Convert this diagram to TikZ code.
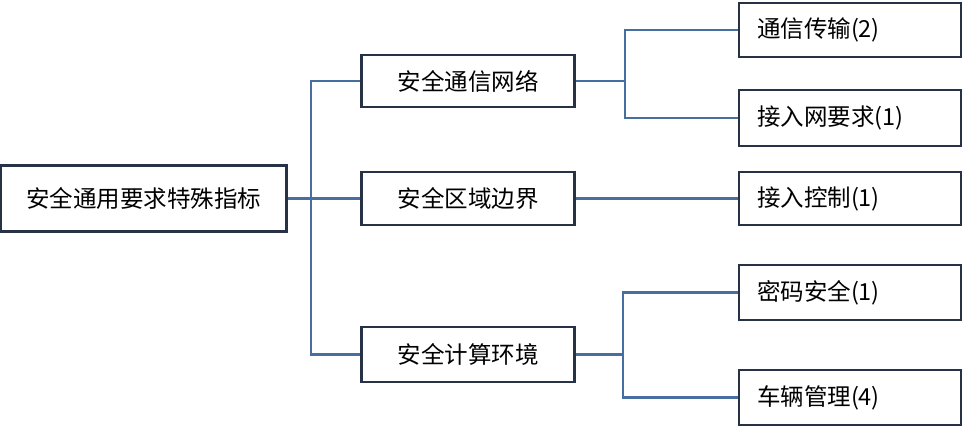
\documentclass[tikz,border=0pt]{standalone}
\usepackage{fontspec}
\setmainfont{Noto Sans CJK SC}
\begin{document}
\begin{tikzpicture}[x=1pt,y=-1pt]
\definecolor{ln}{RGB}{70,110,160}
\fill[white] (0,0) rectangle (963,430);
\useasboundingbox (0,0) rectangle (963,430);
\tikzset{bx/.style={draw={rgb,255:red,40;green,50;blue,70}, line width=2.4pt, inner sep=0pt, font=\fontsize{23.5}{26}\selectfont}}
\node[bx, minimum width=286pt, minimum height=66pt] (r) at (143.5,198.5) {安全通用要求特殊指标};
\node[bx, minimum width=213pt, minimum height=52pt] (m1) at (468,81) {安全通信网络};
\node[bx, minimum width=213pt, minimum height=53pt] (m2) at (468,198.5) {安全区域边界};
\node[bx, minimum width=213pt, minimum height=55pt] (m3) at (468,354.5) {安全计算环境};
\tikzset{rb/.style={bx, minimum width=222pt, minimum height=#1, text width=186pt, align=left}}
\node[rb=54pt] (a1) at (850,30) {通信传输(2)};
\node[rb=56pt] (a2) at (850,118) {接入网要求(1)};
\node[rb=53pt] (a3) at (850,198.5) {接入控制(1)};
\node[rb=55pt] (a4) at (850,292.5) {密码安全(1)};
\node[rb=55pt] (a5) at (850,397.5) {车辆管理(4)};
\begin{scope}[draw=ln, line width=2.4pt]
\draw (r.east) -- (311,198.5);
\draw (m1.west) -| (311,354.5) -- (m3.west);
\draw (311,198.5) -- (m2.west);
\draw (m1.east) -- (625,81);
\draw (a1.west) -| (625,118) -- (a2.west);
\draw (m2.east) -- (a3.west);
\draw (m3.east) -- (623,354.5);
\draw (a4.west) -| (623,397.5) -- (a5.west);
\end{scope}
\end{tikzpicture}
\end{document}
